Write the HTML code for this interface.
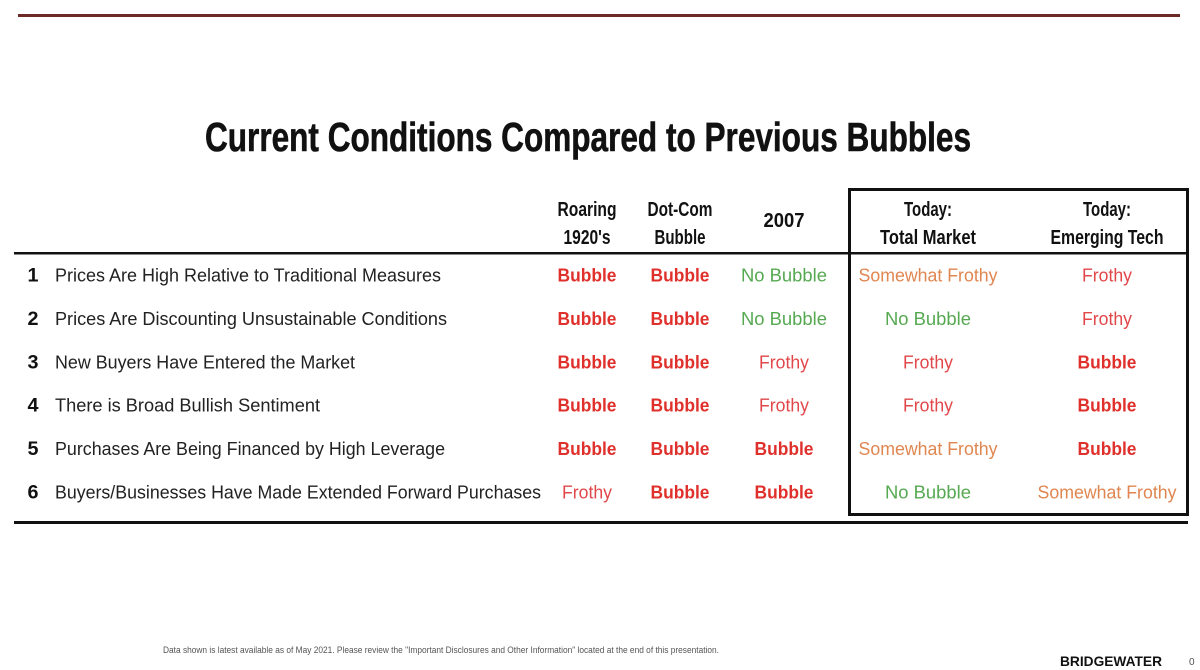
<!DOCTYPE html>
<html><head><meta charset="utf-8"><style>
body{margin:0;background:#fff;width:1200px;height:670px;overflow:hidden}
svg{display:block}
text{font-family:"Liberation Sans Narrow","Liberation Sans",sans-serif}
</style></head><body>
<svg id="s" width="1200" height="670" viewBox="0 0 1200 670">
<rect x="18" y="14" width="1162" height="3" fill="#6b2a25"/>
<text x="588" y="151" text-anchor="middle" font-size="41" font-weight="bold" fill="#111" stroke="#111" stroke-width="0.6" textLength="766" lengthAdjust="spacingAndGlyphs">Current Conditions Compared to Previous Bubbles</text>
<rect x="849.5" y="189.5" width="338" height="325" fill="none" stroke="#111" stroke-width="3"/>
<rect x="14" y="252" width="1174" height="2.5" fill="#111"/>
<rect x="14" y="521" width="1174" height="3" fill="#111"/>
<text x="163" y="653" font-size="9" fill="#555" textLength="556" lengthAdjust="spacingAndGlyphs">Data shown is latest available as of May 2021. Please review the "Important Disclosures and Other Information" located at the end of this presentation.</text>
<text x="1060" y="666" font-size="14" font-weight="bold" fill="#111" textLength="102" lengthAdjust="spacingAndGlyphs">BRIDGEWATER</text>
<text x="1189" y="665" font-size="10" fill="#555">0</text>
</svg>
<script>
const columns=[["Roaring","1920's"],["Dot-Com","Bubble"],["2007"],["Today:","Total Market"],["Today:","Emerging Tech"]];
const rowLabels=["Prices Are High Relative to Traditional Measures","Prices Are Discounting Unsustainable Conditions","New Buyers Have Entered the Market","There is Broad Bullish Sentiment","Purchases Are Being Financed by High Leverage","Buyers/Businesses Have Made Extended Forward Purchases"];
const col1920=["Bubble","Bubble","Bubble","Bubble","Bubble","Frothy"];
const colDotCom=["Bubble","Bubble","Bubble","Bubble","Bubble","Bubble"];
const col2007=["No Bubble","No Bubble","Frothy","Frothy","Bubble","Bubble"];
const colTotal=["Somewhat Frothy","No Bubble","Frothy","Frothy","Somewhat Frothy","No Bubble"];
const colTech=["Frothy","Frothy","Bubble","Bubble","Bubble","Somewhat Frothy"];
const values=[col1920,colDotCom,col2007,colTotal,colTech];

const NS="http://www.w3.org/2000/svg",s=document.getElementById('s');
const colX=[587,680,784,928,1107];
const rowY=i=>275+i*43.4;
const labelW=[386,392,300,265,390,486];
const headW={"Roaring":59,"1920's":47,"Dot-Com":65,"Bubble":51,"2007":41,"Today:":48,"Total Market":96,"Emerging Tech":113};
const style={"Bubble":{c:"#e0302b",w:"bold",l:59},"Frothy":{c:"#e2474a",w:"normal",l:50},"No Bubble":{c:"#55a951",w:"normal",l:86},"Somewhat Frothy":{c:"#e08650",w:"normal",l:139}};
function t(x,y,str,size,weight,fill,anchor,len){
  const e=document.createElementNS(NS,'text');
  e.setAttribute('x',x);e.setAttribute('y',y);e.setAttribute('font-size',size);
  e.setAttribute('font-weight',weight);e.setAttribute('fill',fill);
  e.setAttribute('text-anchor',anchor);
  if(len){e.setAttribute('textLength',len);e.setAttribute('lengthAdjust','spacingAndGlyphs');}
  e.textContent=str;s.appendChild(e);return e;
}
columns.forEach((c,j)=>{
  c.forEach((ln,k)=>{
    const y=c.length===1?227:216+k*28;
    const e=t(colX[j],y,ln,20,'bold','#111','middle',headW[ln]);
    
    
  });
});
rowLabels.forEach((lab,i)=>{
  const y=rowY(i)+6.5;
  const n=t(33,y,String(i+1),19,'bold','#111','middle',11);
  
  
  const l=t(55,y,lab,18.5,'normal','#222','start',labelW[i]);
  
  
  values.forEach((col,j)=>{
    const v=col[i],st=style[v]||{c:'#333',w:'normal'};
    const e=t(colX[j],y,v,18.5,st.w,st.c,'middle',st.l);
    
    
  });
});
</script>
</body></html>
